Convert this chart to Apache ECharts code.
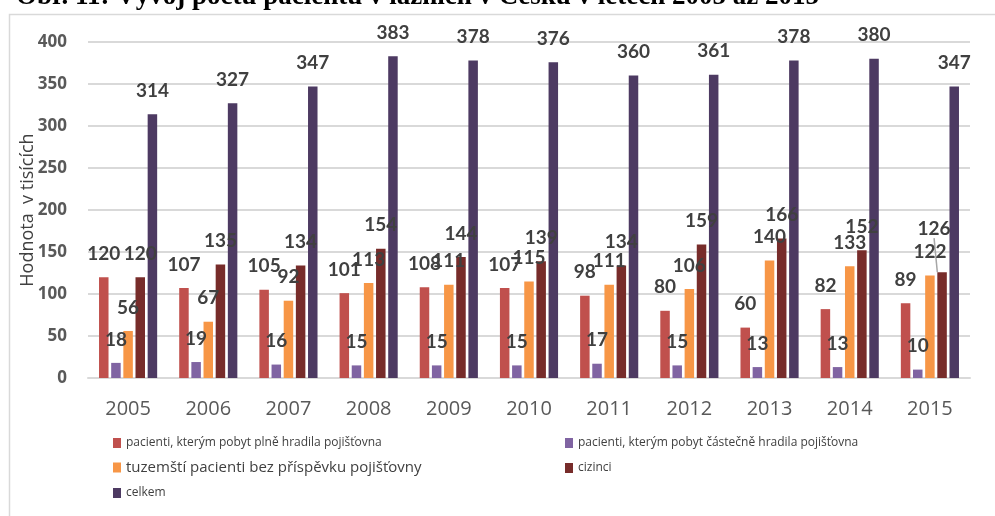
<!DOCTYPE html>
<html>
<head>
<meta charset="utf-8">
<script src="https://cdn.jsdelivr.net/npm/echarts@6/dist/echarts.min.js"></script>
<style>html,body{margin:0;padding:0;background:#fff}#c{width:995px;height:516px}</style>
</head>
<body>
<div id="c"></div>
<script>
const categories = ['2005','2006','2007','2008','2009','2010','2011','2012','2013','2014','2015'];
const seriesNames = [
  'pacienti, kterým pobyt plně hradila pojišťovna',
  'pacienti, kterým pobyt částečně hradila pojišťovna',
  'tuzemští pacienti bez příspěvku pojišťovny',
  'cizinci',
  'celkem'
];
const plne = [120,107,105,101,108,107,98,80,60,82,89];
const castecne = [18,19,16,15,15,15,17,15,13,13,10];
const tuzemsti = [56,67,92,113,111,115,111,106,140,133,122];
const cizinci = [120,135,134,154,144,139,134,159,166,152,126];
const celkem = [314,327,347,383,378,376,360,361,378,380,347];
const colors = ['#C0504D','#8064A2','#F79646','#772C2A','#4D3A62'];
const titleText = 'Obr. 11: Vývoj počtu pacientů v lázních v Česku v letech 2005 až 2015';
const axisName = 'Hodnota  v tisících';

const chart = echarts.init(document.getElementById('c'));
const labelStyle = {show:true, position:'top', distance:14, color:'#404040', fontFamily:'Lato', fontWeight:'bold', fontSize:19};
const allData = [plne, castecne, tuzemsti, cizinci, celkem];
const series = allData.map((d,i)=>{
  const s = {
    name: seriesNames[i], type:'bar', barWidth:9.5, barGap:'28%',
    itemStyle:{color:colors[i]}, label:labelStyle,
    data: d.map((v,j)=> (i===3 && j===10) ? {value:v, labelLine:{show:true, lineStyle:{color:'#a6a6a6', width:1.5, opacity:1}}} : v)
  };
  if (i === 3) {
    s.labelLine = {show:true, lineStyle:{color:'#a6a6a6', width:1.5, opacity:0}};
    s.labelLayout = function(p){ if (p.dataIndex === 10) return {dx:-8, dy:-20}; return {}; };
  }
  return s;
});
function leg(idx, left, top, fs){
  return {data:[seriesNames[idx]], left:left, top:top, itemWidth:8, itemHeight:10, itemGap:4,
    icon:'rect', textStyle:{color:'#404040', fontSize:fs, fontFamily:'Open Sans'}, selectedMode:false};
}
chart.setOption({
  animation:false,
  color: colors,
  graphic:[
    {type:'rect', shape:{x:9.5,y:14.5,width:1000,height:600}, style:{fill:'none', stroke:'#d9d9d9', lineWidth:1.5}, z:-1},
    {type:'text', left:16, top:-16, style:{text:titleText, font:'bold 27px "Liberation Serif"', fill:'#000'}}
  ],
  grid:{left:88, right:25, top:42, bottom:138},
  legend:[leg(0,108,432,12), leg(1,560,432,12), leg(2,108,455,15), leg(3,560,457,12), leg(4,108,482,12)],
  xAxis:{type:'category', data:categories,
    axisLine:{lineStyle:{color:'#d9d9d9', width:2}}, axisTick:{show:false},
    axisLabel:{color:'#595959', fontSize:20, fontFamily:'Open Sans', margin:21}},
  yAxis:{type:'value', min:0, max:400, interval:50,
    name:axisName, nameLocation:'middle', nameGap:51, nameRotate:90, nameMoveOverlap:false,
    nameTextStyle:{color:'#404040', fontSize:18, fontFamily:'Open Sans'},
    axisLine:{show:false}, axisTick:{show:false},
    splitLine:{lineStyle:{color:'#d9d9d9', width:2}},
    axisLabel:{color:'#595959', fontSize:17, fontWeight:'bold', fontFamily:'Open Sans', margin:21}},
  series: series
});
</script>
</body>
</html>
